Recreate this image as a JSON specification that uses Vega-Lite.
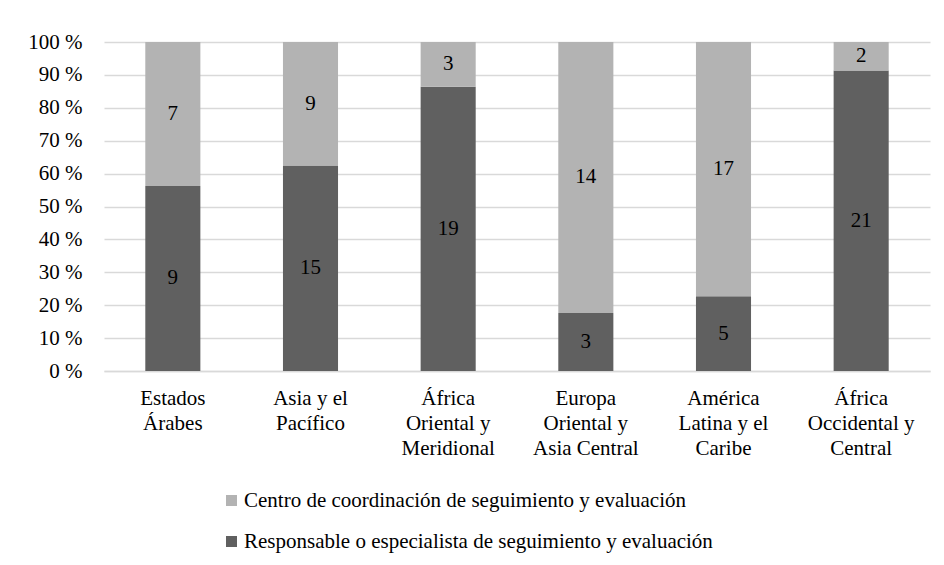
{
  "$schema": "https://vega.github.io/schema/vega-lite/v6.json",
  "width": 826,
  "height": 329,
  "autosize": {"type": "none"},
  "padding": {"left": 104, "top": 42, "right": 14, "bottom": 194},
  "background": "white",
  "config": {
    "view": {"stroke": null}
  },
  "data": {
    "values": [
      {"region": "Estados Árabes", "serie": "Responsable o especialista de seguimiento y evaluación", "orden": 1, "n": 9},
      {"region": "Estados Árabes", "serie": "Centro de coordinación de seguimiento y evaluación", "orden": 2, "n": 7},
      {"region": "Asia y el Pacífico", "serie": "Responsable o especialista de seguimiento y evaluación", "orden": 1, "n": 15},
      {"region": "Asia y el Pacífico", "serie": "Centro de coordinación de seguimiento y evaluación", "orden": 2, "n": 9},
      {"region": "África Oriental y Meridional", "serie": "Responsable o especialista de seguimiento y evaluación", "orden": 1, "n": 19},
      {"region": "África Oriental y Meridional", "serie": "Centro de coordinación de seguimiento y evaluación", "orden": 2, "n": 3},
      {"region": "Europa Oriental y Asia Central", "serie": "Responsable o especialista de seguimiento y evaluación", "orden": 1, "n": 3},
      {"region": "Europa Oriental y Asia Central", "serie": "Centro de coordinación de seguimiento y evaluación", "orden": 2, "n": 14},
      {"region": "América Latina y el Caribe", "serie": "Responsable o especialista de seguimiento y evaluación", "orden": 1, "n": 5},
      {"region": "América Latina y el Caribe", "serie": "Centro de coordinación de seguimiento y evaluación", "orden": 2, "n": 17},
      {"region": "África Occidental y Central", "serie": "Responsable o especialista de seguimiento y evaluación", "orden": 1, "n": 21},
      {"region": "África Occidental y Central", "serie": "Centro de coordinación de seguimiento y evaluación", "orden": 2, "n": 2}
    ]
  },
  "transform": [
    {"stack": "n", "groupby": ["region"], "offset": "normalize", "sort": [{"field": "orden", "order": "ascending"}], "as": ["y0", "y1"]},
    {"calculate": "(datum.y0 + datum.y1) / 2", "as": "ymid"}
  ],
  "encoding": {
    "x": {
      "field": "region",
      "type": "nominal",
      "sort": ["Estados Árabes", "Asia y el Pacífico", "África Oriental y Meridional", "Europa Oriental y Asia Central", "América Latina y el Caribe", "África Occidental y Central"],
      "scale": {"paddingInner": 0.6, "paddingOuter": 0.3},
      "axis": {
        "title": null,
        "labelAngle": 0,
        "labelFont": "Liberation Serif",
        "labelFontSize": 21,
        "labelColor": "#000000",
        "labelLineHeight": 25,
        "labelBaseline": "top",
        "labelPadding": 16,
        "labelLimit": 300,
        "ticks": false,
        "domain": true,
        "domainColor": "#d9d9d9",
        "domainWidth": 1.5,
        "labelExpr": "({'Estados Árabes': ['Estados', 'Árabes'], 'Asia y el Pacífico': ['Asia y el', 'Pacífico'], 'África Oriental y Meridional': ['África', 'Oriental y', 'Meridional'], 'Europa Oriental y Asia Central': ['Europa', 'Oriental y', 'Asia Central'], 'América Latina y el Caribe': ['América', 'Latina y el', 'Caribe'], 'África Occidental y Central': ['África', 'Occidental y', 'Central']})[datum.value]"
      }
    }
  },
  "layer": [
    {
      "mark": {"type": "bar"},
      "encoding": {
        "y": {
          "field": "y0",
          "type": "quantitative",
          "scale": {"domain": [0, 1]},
          "axis": {
            "title": null,
            "values": [0, 0.1, 0.2, 0.3, 0.4, 0.5, 0.6, 0.7, 0.8, 0.9, 1],
            "labelExpr": "round(datum.value * 100) + ' %'",
            "labelFont": "Liberation Serif",
            "labelFontSize": 21,
            "labelColor": "#000000",
            "labelPadding": 22,
            "labelOverlap": false,
            "ticks": false,
            "domain": false,
            "grid": true,
            "gridColor": "#d9d9d9",
            "gridWidth": 1.5
          }
        },
        "y2": {"field": "y1"},
        "color": {
          "field": "serie",
          "type": "nominal",
          "scale": {
            "domain": ["Centro de coordinación de seguimiento y evaluación", "Responsable o especialista de seguimiento y evaluación"],
            "range": ["#b3b3b3", "#606060"]
          },
          "legend": {
            "title": null,
            "orient": "none",
            "legendX": 117,
            "legendY": 448,
            "direction": "vertical",
            "symbolType": "square",
            "symbolSize": 121,
            "symbolStrokeWidth": 0,
            "labelFont": "Liberation Serif",
            "labelFontSize": 21,
            "labelColor": "#000000",
            "labelOffset": 2,
            "labelLimit": 700,
            "rowPadding": 19
          }
        }
      }
    },
    {
      "mark": {"type": "text", "font": "Liberation Serif", "fontSize": 21, "color": "#000000"},
      "encoding": {
        "y": {
          "field": "ymid",
          "type": "quantitative",
          "scale": {"domain": [0, 1]},
          "axis": {
            "title": null,
            "values": [0, 0.1, 0.2, 0.3, 0.4, 0.5, 0.6, 0.7, 0.8, 0.9, 1],
            "labelExpr": "round(datum.value * 100) + ' %'",
            "labelFont": "Liberation Serif",
            "labelFontSize": 21,
            "labelColor": "#000000",
            "labelPadding": 22,
            "labelOverlap": false,
            "ticks": false,
            "domain": false,
            "grid": true,
            "gridColor": "#d9d9d9",
            "gridWidth": 1.5
          }
        },
        "text": {"field": "n", "type": "quantitative"}
      }
    }
  ]
}
